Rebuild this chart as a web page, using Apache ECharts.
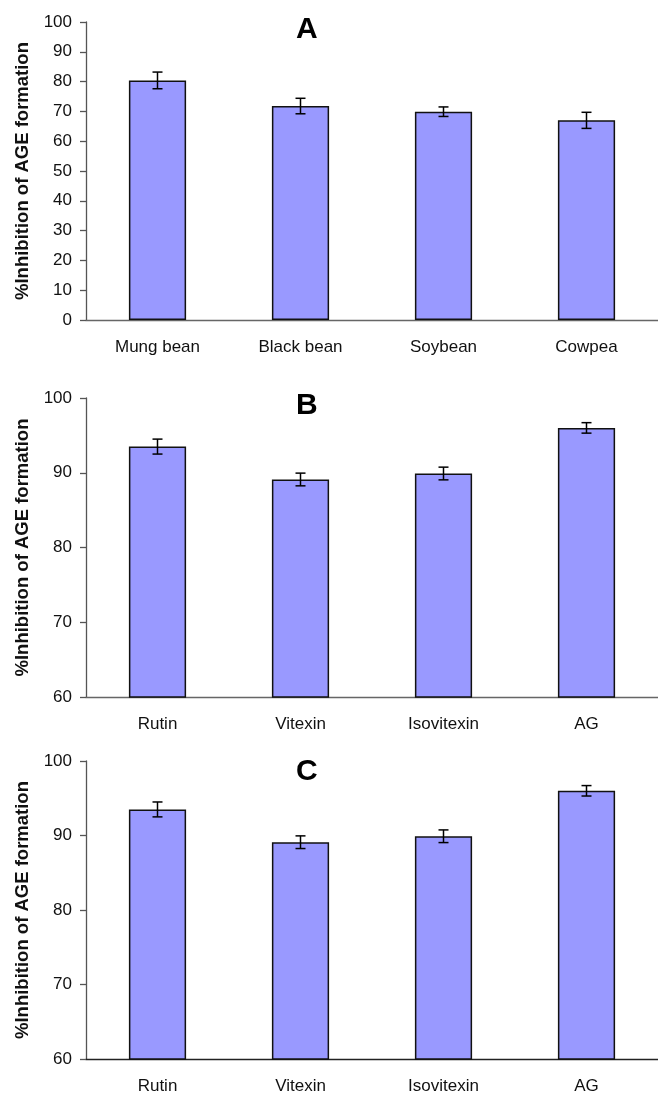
<!DOCTYPE html>
<html>
<head>
<meta charset="utf-8">
<script src="https://cdn.jsdelivr.net/npm/echarts@6/dist/echarts.min.js"></script>
<style>
html,body{margin:0;padding:0;background:#fff;}
#chart{width:658px;height:1097px;}
</style>
</head>
<body>
<div id="chart"></div>
<script>
const catA = ['Mung bean', 'Black bean', 'Soybean', 'Cowpea'];
const valA = [80.4, 71.8, 69.9, 67.0];
const errA = [2.8, 2.6, 1.6, 2.7];

const catB = ['Rutin', 'Vitexin', 'Isovitexin', 'AG'];
const valB = [93.5, 89.1, 89.9, 96.0];
const errB = [1.0, 0.85, 0.85, 0.7];

const catC = ['Rutin', 'Vitexin', 'Isovitexin', 'AG'];
const valC = [93.5, 89.1, 89.9, 96.0];
const errC = [1.0, 0.85, 0.85, 0.7];

const yTicksA = {min: 0, max: 100, interval: 10};
const yTicksB = {min: 60, max: 100, interval: 10};
const yTicksC = {min: 60, max: 100, interval: 10};

const panelLetters = ['A', 'B', 'C'];
const yName = '%Inhibition of AGE formation';

const FONT = '"Liberation Sans", Arial, Helvetica, sans-serif';

const grids = [
  {left: 86, top: 22, width: 572, height: 298},
  {left: 86, top: 398, width: 572, height: 299},
  {left: 86, top: 761, width: 572, height: 298}
];
const axisColors = ['#666', '#666', '#222'];

function xAxis(cats, gi) {
  return {
    type: 'category', gridIndex: gi, data: cats,
    axisLine: {lineStyle: {color: axisColors[gi], width: 1.3}},
    axisTick: {show: false},
    axisLabel: {color: '#111', fontSize: 17, fontFamily: FONT, margin: 19}
  };
}
function yAxis(t, gi) {
  return {
    type: 'value', gridIndex: gi, min: t.min, max: t.max, interval: t.interval,
    name: yName, nameLocation: 'middle', nameGap: 54,
    nameTextStyle: {fontSize: 18.5, fontWeight: 'bold', color: '#111', fontFamily: FONT},
    axisLine: {show: true, lineStyle: {color: '#555', width: 1.3}},
    axisTick: {show: true, length: 6, lineStyle: {color: '#555', width: 1.3}},
    splitLine: {show: false},
    axisLabel: {color: '#111', fontSize: 17, fontFamily: FONT, margin: 14}
  };
}
function barSeries(vals, gi) {
  return {
    type: 'bar', xAxisIndex: gi, yAxisIndex: gi, data: vals, barWidth: '40%',
    itemStyle: {color: '#9999FF', borderColor: '#111', borderWidth: 1.5},
    silent: true, animation: false
  };
}
function errSeries(vals, errs, gi) {
  return {
    type: 'custom', xAxisIndex: gi, yAxisIndex: gi, z: 10, silent: true, animation: false,
    data: vals.map((v, i) => [i, v, errs[i]]),
    renderItem: function (params, api) {
      const i = api.value(0), v = api.value(1), e = api.value(2);
      const top = api.coord([i, v + e]);
      const bot = api.coord([i, v - e]);
      const hw = 5;
      const st = {stroke: '#000', lineWidth: 1.5};
      return {
        type: 'group',
        children: [
          {type: 'line', shape: {x1: top[0], y1: top[1], x2: bot[0], y2: bot[1]}, style: st},
          {type: 'line', shape: {x1: top[0] - hw, y1: top[1], x2: top[0] + hw, y2: top[1]}, style: st},
          {type: 'line', shape: {x1: bot[0] - hw, y1: bot[1], x2: bot[0] + hw, y2: bot[1]}, style: st}
        ]
      };
    }
  };
}

const letterY = [28, 404, 770];
const option = {
  animation: false,
  backgroundColor: '#fff',
  grid: grids,
  xAxis: [xAxis(catA, 0), xAxis(catB, 1), xAxis(catC, 2)],
  yAxis: [yAxis(yTicksA, 0), yAxis(yTicksB, 1), yAxis(yTicksC, 2)],
  series: [
    barSeries(valA, 0), errSeries(valA, errA, 0),
    barSeries(valB, 1), errSeries(valB, errB, 1),
    barSeries(valC, 2), errSeries(valC, errC, 2)
  ],
  graphic: panelLetters.map((L, k) => ({
    type: 'text', left: 296, top: letterY[k] - 13,
    style: {text: L, font: 'bold 30px ' + FONT, fill: '#000'}
  }))
};

const chart = echarts.init(document.getElementById('chart'), null, {renderer: 'canvas'});
chart.setOption(option);
</script>
</body>
</html>
